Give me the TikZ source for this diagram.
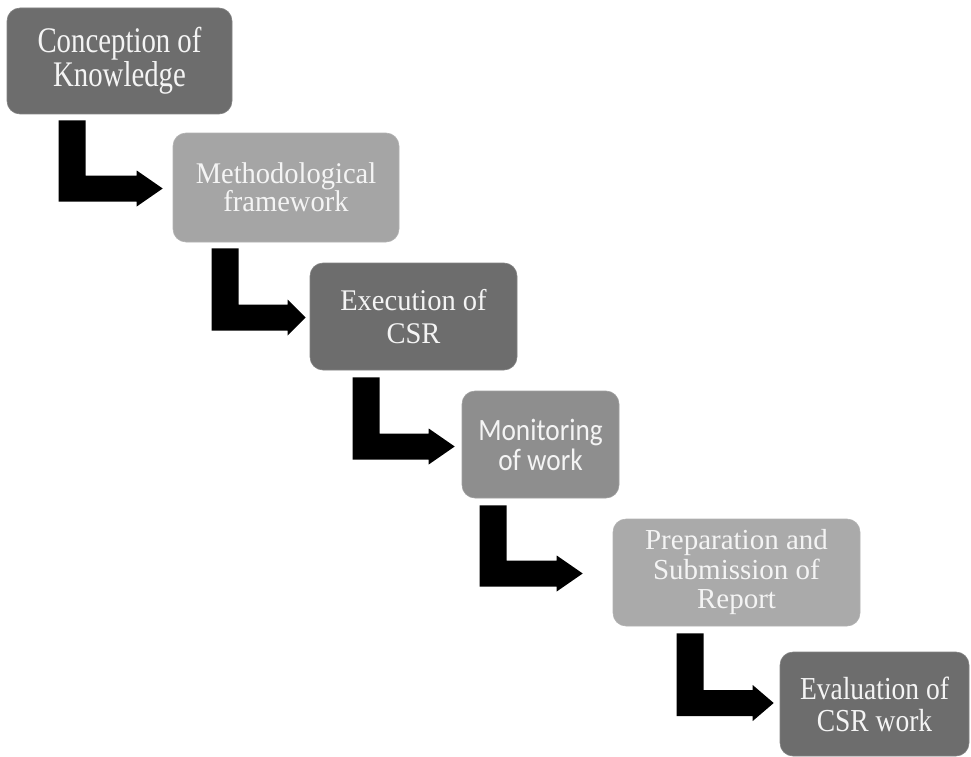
\documentclass[tikz,border=0pt]{standalone}
\usepackage{fontspec}
\setmainfont{Liberation Serif}
\newfontfamily\serA[FakeStretch=0.8]{Liberation Serif}
\newfontfamily\serB[FakeStretch=0.95]{Liberation Serif}
\newfontfamily\serC[FakeStretch=0.86]{Liberation Serif}
\newfontfamily\serD{Liberation Serif}
\newfontfamily\calib[FakeStretch=0.88]{Carlito}
\usetikzlibrary{calc}
\definecolor{darkbox}{HTML}{6D6D6D}
\definecolor{lightbox}{HTML}{A5A5A5}
\definecolor{midbox}{HTML}{8E8E8E}
\definecolor{boxtext}{HTML}{F4F4F4}
\newcommand\Larr[3]{%
  \fill[black] let \p1=(#1), \p2=(#2) in
  (\x1,\y1) -- (\x1+27pt,\y1) -- (\x1+27pt,\y2+13pt) -- (\x2-#3pt,\y2+13pt)
  -- (\x2-#3pt,\y2+18pt) -- (\x2,\y2) -- (\x2-#3pt,\y2-18pt)
  -- (\x2-#3pt,\y2-13pt) -- (\x1,\y2-13pt) -- cycle;}
\begin{document}
\begin{tikzpicture}[x=1pt,y=-1pt,
  stage/.style={rectangle, rounded corners=13pt, inner sep=0pt, align=center,
    text=boxtext, line width=0.6pt},
  darkstage/.style={stage, fill=darkbox, draw=darkbox!85!white},
  lightstage/.style={stage, fill=lightbox, draw=lightbox!85!white},
  midstage/.style={stage, fill=midbox, draw=midbox!85!white}]
\useasboundingbox (0,0) rectangle (971,757);
\node[darkstage, minimum width=225pt, minimum height=106pt,
  font=\serA\fontsize{36}{32}\selectfont] (b1) at (119.5,61) {Conception of\\Knowledge};
\node[lightstage, minimum width=226pt, minimum height=109pt,
  font=\serB\fontsize{30}{28}\selectfont] (b2) at (286,187.5) {Methodological\\framework};
\node[darkstage, minimum width=207pt, minimum height=107pt,
  font=\serB\fontsize{30}{33}\selectfont] (b3) at (413.5,316.5) {Execution of\\CSR};
\node[midstage, minimum width=157pt, minimum height=107pt,
  font=\calib\fontsize{31}{30}\selectfont] (b4) at (540.5,444.5) {Monitoring\\of work};
\node[lightstage, fill=lightbox!95!white, minimum width=247pt, minimum height=107pt,
  font=\serD\fontsize{29}{29.5}\selectfont] (b5) at (736.5,572.5) {Preparation and\\Submission of\\Report};
\node[darkstage, minimum width=189pt, minimum height=104pt,
  font=\serC\fontsize{32}{32}\selectfont] (b6) at (874.5,704) {Evaluation of\\CSR work};
\coordinate (s1) at ($(b1.south west)+(52,6)$);
\coordinate (t1) at ($(b2.west)+(-10,1)$);
\coordinate (s2) at ($(b2.south west)+(39,6)$);
\coordinate (t2) at ($(b3.west)+(-4,1)$);
\coordinate (s3) at ($(b3.south west)+(43,7)$);
\coordinate (t3) at ($(b4.west)+(-7,2)$);
\coordinate (s4) at ($(b4.south west)+(18,7)$);
\coordinate (t4) at ($(b5.west)+(-30,1)$);
\coordinate (s5) at ($(b5.south west)+(64,7)$);
\coordinate (t5) at ($(b6.west)+(-6,-1)$);
\Larr{s1}{t1}{26}
\Larr{s2}{t2}{18}
\Larr{s3}{t3}{26}
\Larr{s4}{t4}{26}
\Larr{s5}{t5}{21}
\end{tikzpicture}
\end{document}
